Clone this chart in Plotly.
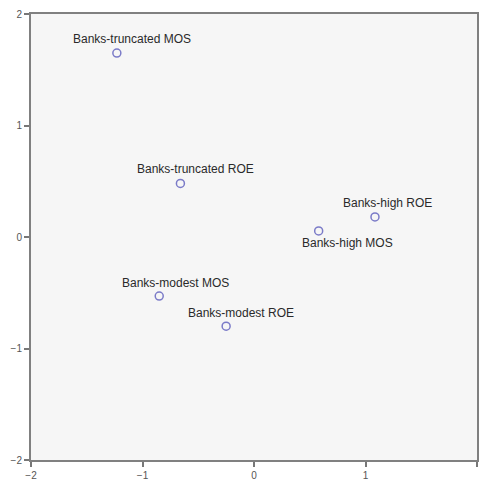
import plotly.graph_objects as go

labels = ["Banks-truncated MOS", "Banks-truncated ROE", "Banks-high ROE",
          "Banks-high MOS", "Banks-modest MOS", "Banks-modest ROE"]
dim1 = [-1.23, -0.66, 1.085, 0.58, -0.85, -0.25]
dim2 = [1.65, 0.48, 0.18, 0.054, -0.53, -0.80]
tick_vals = [-2, -1, 0, 1, 2]

# label offsets in pixels (layout only)
label_shift_x = [15, 15, 13, 29, 16, 15]
label_shift_y = [14, 14, 14, -12, 13, 13]

fig = go.Figure()
fig.add_trace(go.Scatter(
    x=dim1, y=dim2, mode="markers",
    marker=dict(symbol="circle-open", size=8, color="#7b7bc8", line=dict(width=1.5)),
    hoverinfo="text", text=labels, showlegend=False,
))

for lx, ly, lab, sx, sy in zip(dim1, dim2, labels, label_shift_x, label_shift_y):
    fig.add_annotation(x=lx, y=ly, text=lab, showarrow=False,
                       xshift=sx, yshift=sy,
                       font=dict(family="Liberation Sans, Arial", size=12, color="#2a2a2a"))

axis_common = dict(
    range=[-2, 2], tickvals=tick_vals, ticks="outside", ticklen=5,
    tickwidth=1.5, tickcolor="#777777", showgrid=False, zeroline=False,
    showline=True, linecolor="#808080", linewidth=2, mirror=True,
    automargin=False,
    tickfont=dict(family="Liberation Sans, Arial", size=10, color="#555555"),
)

fig.update_xaxes(**axis_common)
fig.update_yaxes(**axis_common)

fig.update_layout(
    width=480, height=482,
    margin=dict(l=31, r=3, t=14, b=22, pad=0),
    plot_bgcolor="#f6f6f6", paper_bgcolor="white",
)

fig.write_html(
    "out.html",
    config={"displayModeBar": False},
    post_script="document.body.style.margin='0';document.body.style.overflow='hidden';",
)
